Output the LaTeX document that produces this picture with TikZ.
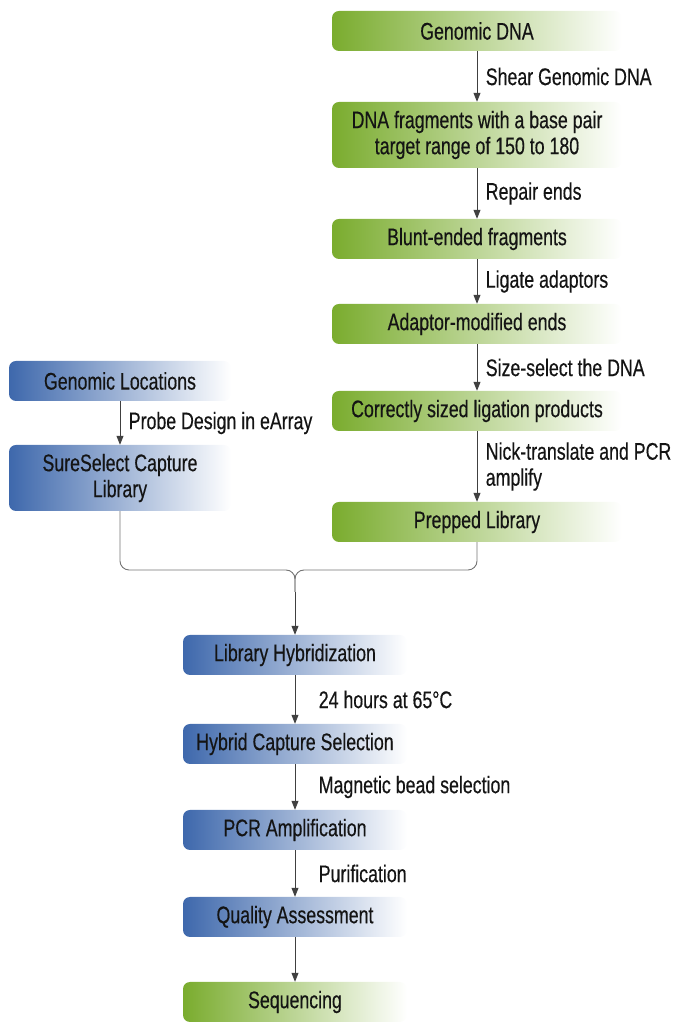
\documentclass[tikz,border=0pt]{standalone}
\usepackage{fontspec}
\usepackage{tikz}
\usepackage{xcolor}
\setmainfont{Liberation Sans}[FakeStretch=0.74, FakeBold=0.4]
\usetikzlibrary{arrows.meta, positioning}
\definecolor{stepgreen}{RGB}{122,172,46}
\definecolor{stepgreenmid}{RGB}{200,224,150}
\definecolor{stepblue}{RGB}{62,104,172}
\definecolor{stepbluemid}{RGB}{184,200,230}
\definecolor{steptext}{RGB}{20,20,20}
\tikzstyle{greenbox} = [rounded corners=7pt, left color=stepgreen, middle color=stepgreenmid, right color=white, text=steptext, align=center, minimum height=40pt]
\tikzstyle{bluebox} = [rounded corners=7pt, left color=stepblue, middle color=stepbluemid, right color=white, text=steptext, align=center, minimum height=40pt]
\tikzstyle{arrow} = [draw=black!75, line width=0.9pt, -{Triangle[length=9pt,width=7pt]}]

\begin{document}
\begin{tikzpicture}[x=1pt, y=1pt, font=\fontsize{24}{26}\selectfont]
\useasboundingbox (0,0) rectangle (677,1022);

% Define the library prep nodes (right column)
\node[greenbox, minimum width=290pt] (gdna) at (477,991) {Genomic DNA};
\node[greenbox, minimum width=290pt, minimum height=66pt] (frag) at (477,887) {DNA fragments with a base pair\\target range of 150 to 180};
\node[greenbox, minimum width=290pt] (blunt) at (477,783) {Blunt-ended fragments};
\node[greenbox, minimum width=290pt] (adapt) at (477,698) {Adaptor-modified ends};
\node[greenbox, minimum width=290pt] (sized) at (477,611) {Correctly sized ligation products};
\node[greenbox, minimum width=290pt] (prep) at (477,500) {Prepped Library};

% Define the capture library nodes (left column)
\node[bluebox, minimum width=222pt] (gloc) at (120,641) {Genomic Locations};
\node[bluebox, minimum width=222pt, minimum height=66pt] (sure) at (120,544) {SureSelect Capture\\Library};

% Define the capture and sequencing nodes
\node[bluebox, minimum width=224pt] (hyb) at (295,367) {Library Hybridization};
\node[bluebox, minimum width=224pt] (hcs) at (295,278) {Hybrid Capture Selection};
\node[bluebox, minimum width=224pt] (pcr) at (295,192) {PCR Amplification};
\node[bluebox, minimum width=224pt] (qa) at (295,105) {Quality Assessment};
\node[greenbox, minimum width=224pt] (seq) at (295,20) {Sequencing};

\coordinate (merge) at (295,452);
\coordinate (join) at (295,430);

% Add arrows between the nodes
\draw[arrow] (gdna) -- (frag) node[midway, right, xshift=5pt, text=steptext] {Shear Genomic DNA};
\draw[arrow] (frag) -- (blunt) node[midway, right, xshift=5pt, text=steptext] {Repair ends};
\draw[arrow] (blunt) -- (adapt) node[midway, right, xshift=5pt, text=steptext] {Ligate adaptors};
\draw[arrow] (adapt) -- (sized) node[midway, right, xshift=5pt, text=steptext] {Size-select the DNA};
\draw[arrow] (sized) -- (prep) node[midway, right, xshift=5pt, text=steptext, align=left] {Nick-translate and PCR\\amplify};
\draw[arrow] (gloc) -- (sure) node[midway, right, xshift=5pt, text=steptext] {Probe Design in eArray};

% Join both libraries
\draw[draw=black!55, line width=0.9pt, rounded corners=9pt] (sure.south) |- (merge) -- (join);
\draw[draw=black!55, line width=0.9pt, rounded corners=9pt] (prep.south) |- (merge) -- (join);
\draw[arrow] (join) -- (hyb);

\draw[arrow] (hyb) -- (hcs) node[midway, right, xshift=20pt, text=steptext] {24 hours at 65°C};
\draw[arrow] (hcs) -- (pcr) node[midway, right, xshift=20pt, text=steptext] {Magnetic bead selection};
\draw[arrow] (pcr) -- (qa) node[midway, right, xshift=20pt, text=steptext] {Purification};
\draw[arrow] (qa) -- (seq);

\end{tikzpicture}
\end{document}
